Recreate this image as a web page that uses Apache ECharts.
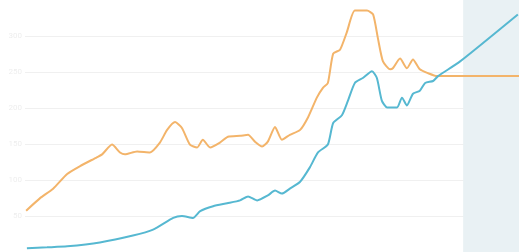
<!DOCTYPE html>
<html>
<head>
<meta charset="utf-8">
<script src="https://cdn.jsdelivr.net/npm/echarts@6/dist/echarts.min.js"></script>
<style>html,body{margin:0;padding:0;background:#fff}#c{width:522px;height:252px}</style>
</head>
<body>
<div id="c"></div>
<script>
var orangeYears = [1900.3,1903.9,1907.4,1911.1,1914.5,1918.9,1920.3,1922.9,1925.0,1926.3,1929.5,1932.9,1935.5,1937.4,1939.5,1941.3,1943.4,1945.3,1946.8,1948.7,1951.3,1953.4,1956.6,1958.7,1960.5,1962.4,1963.9,1965.8,1967.6,1969.7,1972.4,1974.5,1976.8,1978.4,1979.7,1981.1,1982.9,1984.7,1986.8,1990.0,1991.6,1992.9,1994.2,1996.1,1996.8,1998.7,2000.5,2002.1,2003.9,2006.1,2008.4,2030];
var orangeValues = [57.3,74.5,88.0,108.4,119.3,131.5,135.6,149.2,138.3,135.6,139.7,138.3,151.9,169.5,180.4,172.3,149.2,145.1,156.0,145.1,151.9,160.1,161.4,162.8,153.3,146.5,153.3,173.6,156.0,162.8,169.6,187.2,214.4,228.0,234.8,275.5,281.0,305.4,335.3,335.3,329.9,296.0,264.7,253.8,255.2,268.8,255.2,267.4,253.8,248.3,244.3,244.3];

var blueYears = [1900.5,1905.8,1911.1,1919.7,1928.4,1933.7,1939.0,1941.3,1944.2,1946.1,1949.5,1953.2,1956.6,1958.7,1961.1,1963.9,1965.8,1967.6,1969.7,1972.4,1975.0,1977.1,1979.7,1981.1,1983.4,1985.0,1986.8,1988.9,1991.3,1992.6,1993.9,1995.3,1997.9,1999.2,2000.5,2002.1,2003.9,2005.3,2007.4,2008.7,2014.5,2029.7];
var blueValues = [5.2,6.5,7.9,13.3,22.8,31.0,47.3,50.0,47.3,56.8,63.6,67.7,71.7,77.2,71.7,78.5,85.3,81.2,88.0,97.6,117.9,138.3,149.2,179.1,189.9,210.3,234.8,241.6,251.1,241.6,210.3,200.8,200.8,214.4,203.5,219.8,223.9,234.8,237.5,244.3,264.7,329.9];

var yTicks = [0,50,100,150,200,250,300,350];
var projectionStart = 2015.3;
var projectionEnd = 2030;

function pairs(xs, ys){ return xs.map(function(x,i){ return [x, ys[i]]; }); }

var chart = echarts.init(document.getElementById('c'), null, {renderer:'canvas'});
chart.setOption({
  animation:false,
  backgroundColor:'#ffffff',
  grid:{left:25, right:3, top:-3, height:258, containLabel:false},
  xAxis:{type:'value', min:1900, max:2030, show:true,
    axisLine:{show:false}, axisTick:{show:false}, axisLabel:{show:false}, splitLine:{show:false}},
  yAxis:{type:'value', min:yTicks[0], max:yTicks[yTicks.length-1], interval:50,
    axisLine:{show:false}, axisTick:{show:false},
    axisLabel:{show:true, color:'#eeeeee', fontSize:8, margin:3, fontFamily:'Roboto',
      formatter:function(v){ return (v === yTicks[yTicks.length-1] || v === 0) ? '' : String(v); }},
    splitLine:{show:true, showMaxLine:false, showMinLine:false, lineStyle:{color:'#f0f0f0', width:1}}},
  series:[
    {type:'line', name:'nominal', data:pairs(blueYears, blueValues), showSymbol:false, smooth:0.2,
      lineStyle:{color:'#56b8d1', width:2}, itemStyle:{color:'#56b8d1'}, z:3,
      markArea:{silent:true, itemStyle:{color:'#e9f1f4'}, data:[[{xAxis:projectionStart},{xAxis:projectionEnd}]]}},
    {type:'line', name:'real', data:pairs(orangeYears, orangeValues), showSymbol:false, smooth:0.2,
      lineStyle:{color:'#f3b46a', width:2}, itemStyle:{color:'#f3b46a'}, z:2}
  ]
});
</script>
</body>
</html>
